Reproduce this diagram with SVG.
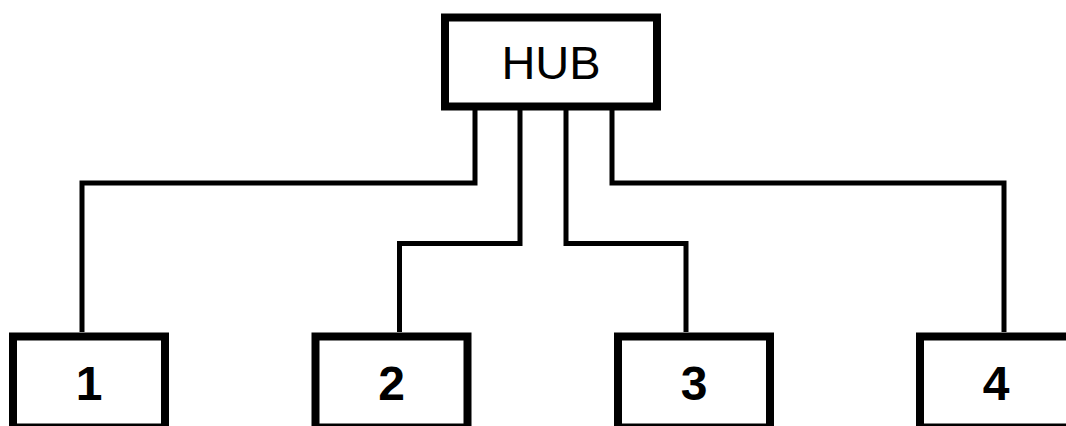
<svg xmlns="http://www.w3.org/2000/svg" width="1066" height="426" viewBox="0 0 1066 426">
<style>
.box{fill:#fff;stroke:#000;stroke-width:8}
.wire{fill:none;stroke:#000;stroke-width:5;stroke-linejoin:miter}
.hub{font-family:"Liberation Sans",Arial,sans-serif;font-size:47px;fill:#000}
.num{font-family:"Liberation Sans",Arial,sans-serif;font-size:48px;font-weight:bold;fill:#000}
</style>
<rect width="1066" height="426" fill="#fff"/>
<g id="connectors">
<polyline class="wire" points="475,107 475,183 82,183 82,332"/>
<polyline class="wire" points="520,107 520,243.5 399.5,243.5 399.5,332"/>
<polyline class="wire" points="566,107 566,243.5 686,243.5 686,332"/>
<polyline class="wire" points="612,107 612,183 1004,183 1004,332"/>
</g>
<g id="hub">
<rect class="box" x="445" y="17.5" width="212" height="89"/>
<text class="hub" x="551" y="79" text-anchor="middle">HUB</text>
</g>
<g id="node1">
<rect class="box" x="13" y="336.5" width="152" height="91"/>
<text class="num" x="89" y="400" text-anchor="middle">1</text>
</g>
<g id="node2">
<rect class="box" x="315.5" y="336.5" width="152" height="91"/>
<text class="num" x="391.5" y="400" text-anchor="middle">2</text>
</g>
<g id="node3">
<rect class="box" x="618" y="336.5" width="152" height="91"/>
<text class="num" x="694" y="400" text-anchor="middle">3</text>
</g>
<g id="node4">
<rect class="box" x="920" y="336.5" width="152" height="91"/>
<text class="num" x="996" y="400" text-anchor="middle">4</text>
</g>
</svg>
